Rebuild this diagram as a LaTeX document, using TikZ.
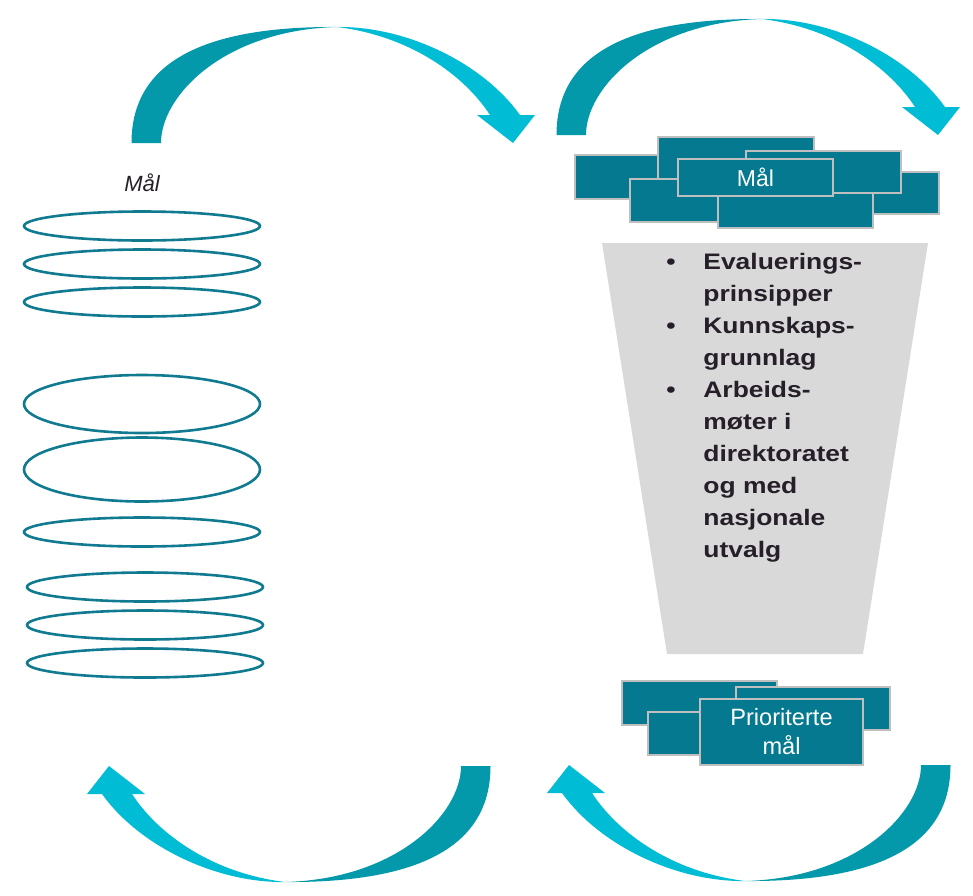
\documentclass[tikz,border=0pt]{standalone}
\usepackage{fontspec}
\setmainfont{Liberation Sans}
\newfontfamily\listfont[FakeStretch=1.18]{Liberation Sans}
\usetikzlibrary{shapes.geometric}

\definecolor{tealdark}{RGB}{3,153,171}
\definecolor{tealcyan}{RGB}{0,188,213}
\definecolor{boxteal}{RGB}{5,121,144}
\definecolor{boxedge}{RGB}{191,191,191}
\definecolor{ringteal}{RGB}{16,122,145}
\definecolor{funnelgray}{RGB}{217,217,217}
\definecolor{inkdark}{RGB}{38,30,40}

% one bent arrow, drawn where the top left one sits
\newcommand{\loopArrow}{%
  \fill[tealdark] (131.5,143) .. controls (131.5,73) and (185,26) .. (337,27)
    .. controls (225,30) and (161,95) .. (161,143) -- cycle;
  \fill[tealcyan] (337,27) .. controls (405,26) and (482,62) .. (520,115)
    -- (535,115) -- (513,143) -- (477,115) -- (490,115)
    .. controls (464,75) and (410,36) .. (337,27) -- cycle;
}

\begin{document}
\begin{tikzpicture}[yscale=-1, x=0.5pt, y=0.5pt,
    goalbox/.style={draw=boxedge, fill=boxteal, line width=1.2pt, inner sep=0pt},
    ring/.style={ellipse, draw=ringteal, line width=1.3pt, minimum width=118pt, inner sep=0pt}]

        \useasboundingbox (0,0) rectangle (973,895);

        % the four arrows
        \loopArrow
        \begin{scope}[shift={(425,-8)}] \loopArrow \end{scope}
        \begin{scope}[rotate around={180:(311,454.5)}] \loopArrow \end{scope}
        \begin{scope}[shift={(460,-1)}, rotate around={180:(311,454.5)}] \loopArrow \end{scope}

        % left column
        \node[text=inkdark, font=\fontsize{11}{13}\selectfont\itshape] (goal) at (142,183) {Mål};
        \foreach \n/\cx/\cy/\h in {1/142/226/14.5pt, 2/142/264/14.5pt, 3/142/302/14.5pt,
                                   4/142/404/29pt, 5/142/469.5/32pt, 6/142/532/14.5pt,
                                   7/145/587/14.5pt, 8/145/625/14.5pt, 9/145/663/14.5pt} {
          \node[ring, minimum height=\h] (ring\n) at (\cx,\cy) {};
        }

        % stack of goals
        \node[goalbox, minimum width=77.5pt, minimum height=21pt] (m4) at (861.5,193) {};
        \node[goalbox, minimum width=77.5pt, minimum height=22pt] (m1) at (652.5,177) {};
        \node[goalbox, minimum width=78pt, minimum height=21.5pt] (m2) at (736,158.5) {};
        \node[goalbox, minimum width=77.5pt, minimum height=21.5pt] (m5) at (707.5,200.5) {};
        \node[goalbox, minimum width=77.5pt, minimum height=21pt] (m3) at (823.5,172) {};
        \node[goalbox, minimum width=77.5pt, minimum height=17.5pt] (m6) at (795.5,210.5) {};
        \node[goalbox, minimum width=77.5pt, minimum height=18.5pt, text=white,
              font=\fontsize{11.5}{14}\selectfont] (mal) at (755.5,177.5) {Mål};

        % funnel
        \fill[funnelgray] (602,243) -- (928,243) -- (863,654) -- (667,654) -- cycle;
        \node[anchor=base west, inner sep=0pt, text=inkdark,
              font=\fontsize{11.2}{16}\listfont\bfseries] (crit) at (666,269) {%
          \begin{tabular}[t]{@{}p{18.5pt}@{}l@{}}
            \textbullet & Evaluerings-\\
                        & prinsipper\\
            \textbullet & Kunnskaps-\\
                        & grunnlag\\
            \textbullet & Arbeids-\\
                        & møter i\\
                        & direktoratet\\
                        & og med\\
                        & nasjonale\\
                        & utvalg
          \end{tabular}};

        % prioritised goals
        \node[goalbox, minimum width=77.5pt, minimum height=22pt] (p1) at (699.5,703) {};
        \node[goalbox, minimum width=77pt, minimum height=21.5pt] (p2) at (813,708.5) {};
        \node[goalbox, minimum width=77.5pt, minimum height=21.5pt] (p3) at (725.5,733.5) {};
        \node[goalbox, minimum width=81.5pt, minimum height=33pt, text=white, align=center,
              font=\fontsize{11.8}{14.5}\selectfont] (prio) at (781.5,732) {Prioriterte\\mål};
    \end{tikzpicture}
\end{document}
